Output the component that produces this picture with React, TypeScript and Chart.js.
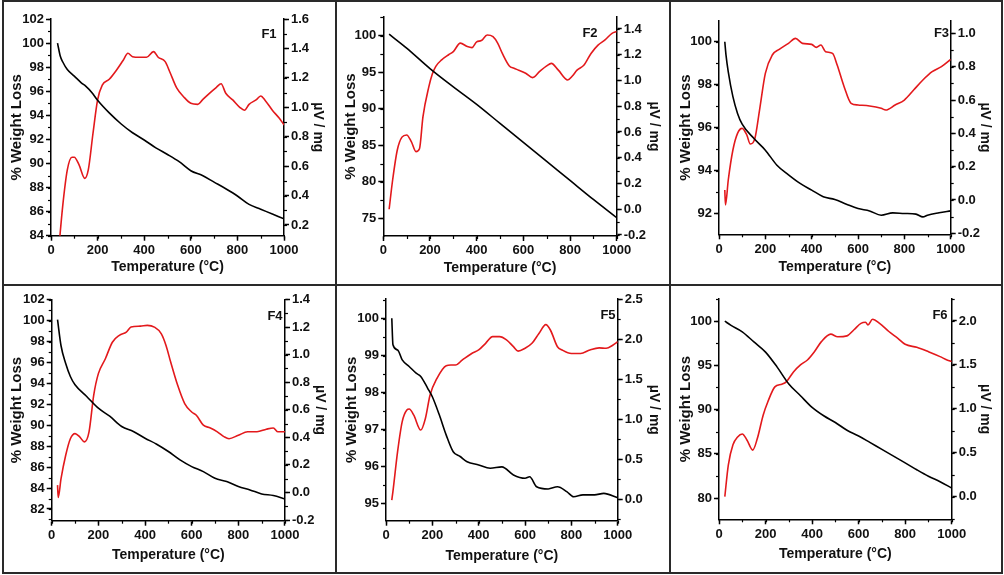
import React, { useEffect, useRef } from "react";
import { Chart, registerables } from "chart.js";

Chart.register(...registerables);

// ---------- data (temperature in °C, weight %, DTA µV/mg) ----------
const F1_TG_T = [28, 40, 50, 70, 100, 130, 150, 175, 200, 250, 300, 350, 400, 450, 500, 550, 600, 650, 700, 750, 800, 850, 900, 950, 1000];
const F1_TG = [100.0, 98.9, 98.45, 97.8, 97.25, 96.7, 96.4, 95.9, 95.25, 94.2, 93.3, 92.55, 91.95, 91.3, 90.75, 90.15, 89.4, 89.0, 88.45, 87.9, 87.3, 86.6, 86.2, 85.8, 85.4];
const F1_DTA_T = [34, 50, 70, 90, 100, 120, 145, 160, 180, 200, 220, 250, 280, 310, 330, 350, 380, 410, 440, 460, 490, 510, 540, 570, 600, 630, 650, 680, 710, 730, 750, 780, 810, 830, 850, 880, 900, 920, 950, 980, 1000];
const F1_DTA = [0.05, 0.325, 0.574, 0.66, 0.66, 0.61, 0.517, 0.574, 0.82, 1.05, 1.15, 1.19, 1.25, 1.32, 1.367, 1.344, 1.34, 1.34, 1.378, 1.34, 1.31, 1.24, 1.13, 1.07, 1.027, 1.02, 1.05, 1.095, 1.136, 1.16, 1.095, 1.05, 1.0, 0.98, 1.02, 1.05, 1.077, 1.045, 0.98, 0.925, 0.88];

const F2_TG_T = [25, 100, 200, 300, 400, 500, 600, 700, 800, 900, 1000];
const F2_TG = [100.2, 98.3, 95.5, 93.0, 90.6, 88.0, 85.4, 82.8, 80.2, 77.6, 75.1];
const F2_DTA_T = [25, 40, 60, 80, 100, 120, 140, 155, 170, 195, 210, 225, 250, 280, 300, 330, 360, 380, 400, 420, 445, 470, 490, 510, 540, 560, 580, 610, 640, 670, 700, 720, 750, 790, 810, 830, 860, 890, 920, 950, 980, 1000];
const F2_DTA = [0.0, 0.227, 0.46, 0.56, 0.577, 0.525, 0.447, 0.47, 0.72, 0.95, 1.05, 1.11, 1.16, 1.2, 1.224, 1.29, 1.263, 1.255, 1.3, 1.31, 1.353, 1.34, 1.29, 1.21, 1.113, 1.095, 1.08, 1.056, 1.022, 1.07, 1.113, 1.133, 1.08, 1.004, 1.035, 1.08, 1.12, 1.21, 1.275, 1.315, 1.366, 1.38];

const F3_TG_T = [25, 30, 40, 60, 80, 100, 150, 200, 250, 300, 350, 400, 450, 500, 550, 600, 650, 700, 750, 800, 850, 880, 900, 950, 1000];
const F3_TG = [100.0, 99.4, 98.6, 97.44, 96.66, 96.16, 95.5, 94.95, 94.25, 93.8, 93.4, 93.09, 92.78, 92.65, 92.43, 92.23, 92.12, 91.92, 92.03, 92.0, 91.97, 91.84, 91.92, 92.03, 92.12];
const F3_DTA_T = [25, 28, 40, 60, 80, 100, 120, 135, 155, 175, 200, 230, 260, 300, 330, 360, 400, 420, 440, 460, 490, 510, 540, 570, 600, 650, 700, 720, 760, 800, 840, 880, 920, 960, 1000];
const F3_DTA = [0.06, -0.03, 0.12, 0.3, 0.4, 0.43, 0.39, 0.336, 0.37, 0.54, 0.76, 0.87, 0.904, 0.94, 0.97, 0.94, 0.934, 0.916, 0.93, 0.89, 0.88, 0.81, 0.68, 0.58, 0.57, 0.564, 0.55, 0.54, 0.57, 0.6, 0.66, 0.72, 0.77, 0.8, 0.844];

const F4_TG_T = [25, 40, 60, 80, 100, 150, 200, 250, 300, 350, 400, 450, 500, 550, 600, 650, 700, 750, 800, 850, 900, 950, 1000];
const F4_TG = [100.1, 97.6, 95.9, 94.66, 93.87, 92.75, 91.63, 90.84, 89.88, 89.4, 88.76, 88.19, 87.49, 86.69, 86.05, 85.57, 84.93, 84.62, 84.14, 83.82, 83.44, 83.28, 82.96];
const F4_DTA_T = [25, 28, 40, 60, 80, 100, 120, 140, 160, 180, 200, 230, 260, 290, 320, 340, 380, 410, 440, 470, 490, 510, 540, 570, 600, 620, 650, 680, 710, 740, 760, 800, 840, 880, 920, 950, 970, 1000];
const F4_DTA = [0.053, -0.036, 0.1, 0.27, 0.39, 0.427, 0.403, 0.367, 0.44, 0.705, 0.862, 0.97, 1.09, 1.14, 1.163, 1.2, 1.207, 1.212, 1.2, 1.151, 1.067, 0.946, 0.777, 0.645, 0.584, 0.56, 0.488, 0.468, 0.44, 0.403, 0.39, 0.415, 0.44, 0.44, 0.459, 0.468, 0.44, 0.44];

const F5_TG_T = [25, 30, 50, 70, 100, 130, 150, 180, 200, 230, 260, 290, 320, 350, 400, 450, 500, 550, 600, 620, 650, 700, 740, 780, 810, 850, 900, 940, 1000];
const F5_TG = [100.02, 99.3, 99.16, 98.89, 98.71, 98.53, 98.44, 98.12, 97.89, 97.4, 96.85, 96.4, 96.27, 96.13, 96.04, 95.95, 95.99, 95.77, 95.68, 95.72, 95.45, 95.39, 95.45, 95.32, 95.18, 95.23, 95.23, 95.27, 95.15];
const F5_DTA_T = [25, 30, 50, 70, 90, 100, 120, 150, 170, 190, 220, 260, 280, 300, 330, 370, 400, 430, 460, 490, 520, 550, 570, 600, 630, 660, 690, 710, 740, 760, 800, 840, 880, 920, 950, 980, 1000];
const F5_DTA = [-0.008, 0.1, 0.595, 0.97, 1.115, 1.127, 1.05, 0.865, 1.01, 1.3, 1.51, 1.668, 1.676, 1.676, 1.74, 1.82, 1.864, 1.947, 2.03, 2.03, 1.99, 1.905, 1.85, 1.885, 1.947, 2.07, 2.18, 2.11, 1.905, 1.864, 1.82, 1.82, 1.864, 1.89, 1.885, 1.926, 1.967];

const F6_TG_T = [25, 50, 100, 150, 200, 250, 300, 350, 400, 450, 500, 550, 600, 650, 700, 750, 800, 850, 900, 950, 1000];
const F6_TG = [100.0, 99.54, 98.79, 97.65, 96.5, 94.8, 92.9, 91.57, 90.25, 89.3, 88.54, 87.67, 87.02, 86.26, 85.5, 84.74, 83.98, 83.2, 82.47, 81.85, 81.14];
const F6_DTA_T = [25, 40, 60, 80, 100, 120, 145, 165, 190, 210, 240, 270, 290, 320, 350, 380, 410, 440, 480, 510, 550, 580, 610, 630, 640, 660, 690, 730, 770, 800, 850, 900, 950, 980, 1000];
const F6_DTA = [0.0, 0.36, 0.59, 0.68, 0.713, 0.645, 0.53, 0.664, 0.93, 1.08, 1.25, 1.28, 1.31, 1.42, 1.5, 1.556, 1.65, 1.765, 1.85, 1.82, 1.83, 1.9, 1.973, 1.985, 1.954, 2.02, 1.973, 1.88, 1.8, 1.734, 1.7, 1.65, 1.594, 1.556, 1.537];

const PANEL_LABELS = ["F1", "F2", "F3", "F4", "F5", "F6"];
const X_TITLE = "Temperature (°C)";
const Y_LEFT_TITLE = "% Weight Loss";
const Y_RIGHT_TITLE = "µV / mg";

// ---------- layout / styling ----------
const W = 1004;
const H = 575;
const FONT = '"Liberation Sans", Arial, sans-serif';
const TICK_SIZE = 13;
const TL_SIZE = 15;
const TR_SIZE = 14;
const TB_SIZE = 14;
const RED = "#e3191c";
const INK = "#111";

type Panel = {
  label: string;
  tgT: number[]; tg: number[]; dtaT: number[]; dta: number[];
  L: number; T: number; R: number; B: number;
  ltx: number; rtx: number; bty: number;
  lx: number; ly: number;
  yMin: number; yMax: number; yStep: number; yMinor: number;
  rMin: number; rMax: number; rStep: number; rMinor: number;
};

const PANELS: Panel[] = [
  { label: PANEL_LABELS[0], tgT: F1_TG_T, tg: F1_TG, dtaT: F1_DTA_T, dta: F1_DTA,
    L: 51, T: 19, R: 284, B: 235.7, ltx: 17, rtx: 318, bty: 267, lx: 269, ly: 34,
    yMin: 84, yMax: 102, yStep: 2, yMinor: 1, rMin: 0.127, rMax: 1.6, rStep: 0.2, rMinor: 0.1 },
  { label: PANEL_LABELS[1], tgT: F2_TG_T, tg: F2_TG, dtaT: F2_DTA_T, dta: F2_DTA,
    L: 383.3, T: 17, R: 616.7, B: 236, ltx: 350.5, rtx: 654, bty: 268, lx: 590, ly: 33,
    yMin: 72.6, yMax: 102.55, yStep: 5, yMinor: 2.5, rMin: -0.208, rMax: 1.493, rStep: 0.2, rMinor: 0.1 },
  { label: PANEL_LABELS[2], tgT: F3_TG_T, tg: F3_TG, dtaT: F3_DTA_T, dta: F3_DTA,
    L: 719, T: 20.7, R: 950.7, B: 234.3, ltx: 685.5, rtx: 985, bty: 267, lx: 941.5, ly: 33.5,
    yMin: 91.03, yMax: 100.98, yStep: 2, yMinor: 1, rMin: -0.206, rMax: 1.076, rStep: 0.2, rMinor: 0.1 },
  { label: PANEL_LABELS[3], tgT: F4_TG_T, tg: F4_TG, dtaT: F4_DTA_T, dta: F4_DTA,
    L: 51.7, T: 299.5, R: 285, B: 520.7, ltx: 17, rtx: 320, bty: 555, lx: 275, ly: 316,
    yMin: 80.88, yMax: 102.02, yStep: 2, yMinor: 1, rMin: -0.205, rMax: 1.4, rStep: 0.2, rMinor: 0.1 },
  { label: PANEL_LABELS[4], tgT: F5_TG_T, tg: F5_TG, dtaT: F5_DTA_T, dta: F5_DTA,
    L: 386, T: 299, R: 617.7, B: 520.7, ltx: 352, rtx: 654, bty: 556, lx: 608, ly: 315,
    yMin: 94.53, yMax: 100.54, yStep: 1, yMinor: 0.5, rMin: -0.266, rMax: 2.5, rStep: 0.5, rMinor: 0.25 },
  { label: PANEL_LABELS[5], tgT: F6_TG_T, tg: F6_TG, dtaT: F6_DTA_T, dta: F6_DTA,
    L: 719, T: 299, R: 951.7, B: 519.3, ltx: 685.5, rtx: 985, bty: 554, lx: 940, ly: 315,
    yMin: 77.6, yMax: 102.5, yStep: 5, yMinor: 2.5, rMin: -0.258, rMax: 2.25, rStep: 0.5, rMinor: 0.25 },
];

function axisCommon() {
  return {
    grid: { display: true, drawOnChartArea: false, drawTicks: true, tickLength: 5, tickWidth: 1.5, tickColor: "#000" },
    border: { display: true, color: "#000", width: 1.5 },
  };
}

function makeConfig(p: Panel): any {
  const lhL = TL_SIZE * 1.2;
  const lhR = TR_SIZE * 1.2;
  const lhB = TB_SIZE * 1.2;
  const padLeft = p.ltx - lhL / 2;
  const wl = p.L - padLeft;
  const rightEdge = p.rtx + lhR / 2;
  const padRight = W - rightEdge;
  const wr = rightEdge - p.R;
  const bottomEdge = p.bty + lhB / 2;
  const padBottom = H - bottomEdge;
  const hb = bottomEdge - p.B;

  const tickFont = { family: FONT, size: TICK_SIZE, weight: "bold" as const };

  const extras = {
    id: "extras_" + p.label,
    afterDraw(chart: any) {
      const ctx = chart.ctx;
      const { left, right, bottom } = chart.chartArea;
      ctx.save();
      ctx.strokeStyle = "#000";
      ctx.lineWidth = 1.2;
      const drawY = (scale: any, step: number, x0: number, dir: number) => {
        const n0 = Math.ceil(scale.min / step - 1e-9);
        const n1 = Math.floor(scale.max / step + 1e-9);
        for (let k = n0; k <= n1; k++) {
          const py = Math.round(scale.getPixelForValue(k * step)) + 0.5;
          ctx.beginPath();
          ctx.moveTo(x0, py);
          ctx.lineTo(x0 + dir * 3, py);
          ctx.stroke();
        }
      };
      drawY(chart.scales.y, p.yMinor, left, -1);
      drawY(chart.scales.y1, p.rMinor, right, 1);
      const xs = chart.scales.x;
      for (let v = 0; v <= 1000; v += 100) {
        const px = Math.round(xs.getPixelForValue(v)) + 0.5;
        ctx.beginPath();
        ctx.moveTo(px, bottom);
        ctx.lineTo(px, bottom + 3);
        ctx.stroke();
      }
      ctx.fillStyle = INK;
      ctx.font = `bold 13px ${FONT}`;
      ctx.textAlign = "center";
      ctx.textBaseline = "middle";
      ctx.fillText(p.label, p.lx, p.ly);
      ctx.restore();
    },
  };

  return {
    type: "line",
    data: {
      datasets: [
        {
          data: p.tgT.map((x, i) => ({ x, y: p.tg[i] })),
          yAxisID: "y",
          borderColor: "#000",
          borderWidth: 1.6,
          pointRadius: 0,
          cubicInterpolationMode: "monotone",
        },
        {
          data: p.dtaT.map((x, i) => ({ x, y: p.dta[i] })),
          yAxisID: "y1",
          borderColor: RED,
          borderWidth: 1.6,
          pointRadius: 0,
          cubicInterpolationMode: "monotone",
        },
      ],
    },
    options: {
      responsive: false,
      animation: false,
      events: [],
      layout: { padding: { left: padLeft, right: padRight, top: p.T, bottom: padBottom } },
      plugins: { legend: { display: false }, tooltip: { enabled: false } },
      scales: {
        x: {
          type: "linear",
          position: "bottom",
          min: 0,
          max: 1000,
          ...axisCommon(),
          ticks: {
            stepSize: 200, color: INK, font: tickFont, padding: 2, autoSkip: false, maxRotation: 0,
            callback: (v: any) => String(Math.round(Number(v))),
          },
          title: { display: true, text: X_TITLE, color: INK, font: { family: FONT, size: TB_SIZE, weight: "bold" }, padding: 0 },
          afterFit: (s: any) => { s.height = hb; },
        },
        y: {
          type: "linear",
          position: "left",
          min: p.yMin,
          max: p.yMax,
          ...axisCommon(),
          ticks: {
            stepSize: p.yStep, includeBounds: false, autoSkip: false, color: INK, font: tickFont, padding: 2,
            callback: (v: any) => Number(v).toFixed(0),
          },
          title: { display: true, text: Y_LEFT_TITLE, color: INK, font: { family: FONT, size: TL_SIZE, weight: "bold" }, padding: 0 },
          afterFit: (s: any) => { s.width = wl; },
        },
        y1: {
          type: "linear",
          position: "right",
          min: p.rMin,
          max: p.rMax,
          ...axisCommon(),
          ticks: {
            stepSize: p.rStep, includeBounds: false, autoSkip: false, color: INK, font: tickFont, padding: 2,
            callback: (v: any) => Number(v).toFixed(1),
          },
          title: { display: true, text: Y_RIGHT_TITLE, color: INK, font: { family: FONT, size: TR_SIZE, weight: "bold" }, padding: 0 },
          afterFit: (s: any) => { s.width = wr; },
        },
      },
    },
    plugins: [extras],
  };
}

function PanelChart({ panel }: { panel: Panel }) {
  const ref = useRef<HTMLCanvasElement | null>(null);
  useEffect(() => {
    if (!ref.current) return;
    const chart = new Chart(ref.current, makeConfig(panel));
    return () => chart.destroy();
  }, [panel]);
  return (
    <canvas
      ref={ref}
      width={W}
      height={H}
      style={{ position: "absolute", left: 0, top: 0, width: W, height: H }}
    />
  );
}

export default function App() {
  const line = "#2a2a2a";
  return (
    <div style={{ position: "fixed", left: 0, top: 0, width: W, height: H, background: "#fff", overflow: "hidden" }}>
      <div style={{ position: "absolute", left: 2, top: 0, width: 1001, height: 574, border: `2px solid ${line}`, boxSizing: "border-box" }} />
      <div style={{ position: "absolute", left: 335, top: 0, width: 2, height: 574, background: line }} />
      <div style={{ position: "absolute", left: 669, top: 0, width: 2, height: 574, background: line }} />
      <div style={{ position: "absolute", left: 2, top: 284, width: 1001, height: 2, background: line }} />
      {PANELS.map((p) => (
        <PanelChart key={p.label} panel={p} />
      ))}
    </div>
  );
}
